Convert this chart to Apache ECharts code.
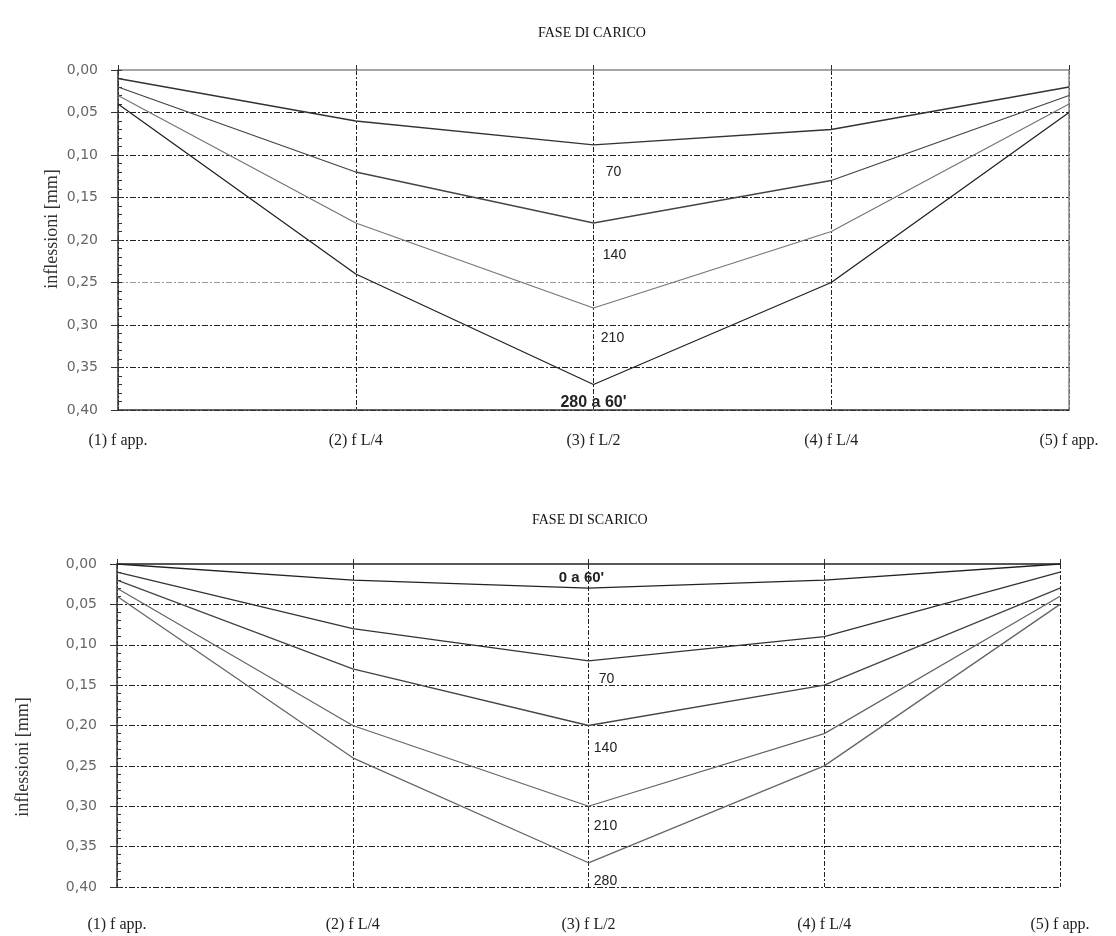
<!DOCTYPE html>
<html>
<head>
<meta charset="utf-8">
<script src="https://cdn.jsdelivr.net/npm/echarts@6/dist/echarts.min.js"></script>
<style>html,body{margin:0;padding:0;background:#fff}#c{width:1116px;height:936px}</style>
</head>
<body>
<div id="c"></div>
<script>
// ---- data ----
const categories = ['(1) f app.', '(2) f L/4', '(3) f L/2', '(4) f L/4', '(5) f app.'];
const yTicks = [0, 0.05, 0.10, 0.15, 0.20, 0.25, 0.30, 0.35, 0.40];

// FASE DI CARICO
const carico70  = [0.01, 0.06, 0.088, 0.07, 0.02];
const carico140 = [0.02, 0.12, 0.18, 0.13, 0.03];
const carico210 = [0.03, 0.18, 0.28, 0.19, 0.04];
const carico280 = [0.04, 0.24, 0.37, 0.25, 0.05];
const caricoNames = ['70', '140', '210', "280 a 60'"];

// FASE DI SCARICO
const scarico0   = [0.00, 0.02, 0.03, 0.02, 0.00];
const scarico70  = [0.01, 0.08, 0.12, 0.09, 0.01];
const scarico140 = [0.02, 0.13, 0.20, 0.15, 0.03];
const scarico210 = [0.03, 0.20, 0.30, 0.21, 0.04];
const scarico280 = [0.04, 0.24, 0.37, 0.25, 0.05];
const scaricoNames = ["0 a 60'", '70', '140', '210', '280'];

// ---- chart ----
const chart = echarts.init(document.getElementById('c'));
const serif = 'Liberation Serif';
const fmt = v => v.toFixed(2).replace('.', ',');

function yAxesFor(gi, dashedRight, splitColors) {
  return [
    { gridIndex: gi, type: 'value', inverse: true, min: 0, max: 0.4, interval: 0.05,
      axisLine: { show: true, lineStyle: { color: '#333', width: 1.5 } },
      axisTick: { show: true, inside: true, length: 4, lineStyle: { color: '#333' } },
      minorTick: { show: true, splitNumber: 5, length: 4, lineStyle: { color: '#333' } },
      axisLabel: { formatter: fmt, margin: 20, color: '#666', fontFamily: 'DejaVu Sans', fontSize: 14 },
      splitLine: { show: true, showMinLine: false, lineStyle: { color: splitColors, type: [6, 2, 2, 2], width: 1 } } },
    { gridIndex: gi, type: 'value', inverse: true, min: 0, max: 0.4, interval: 0.05, position: 'left',
      axisLine: { show: false }, axisLabel: { show: false }, splitLine: { show: false },
      axisTick: { show: true, inside: false, length: 7, lineStyle: { color: '#333' } } },
    { gridIndex: gi, type: 'value', inverse: true, min: 0, max: 0.4, interval: 0.05, position: 'right',
      axisLine: { show: !dashedRight, lineStyle: { color: '#888', width: 1.5 } },
      axisLabel: { show: false }, axisTick: { show: false }, splitLine: { show: false } }
  ];
}

function xAxesFor(gi, bottomSolid, topColor, margin) {
  return [
    { gridIndex: gi, type: 'category', data: categories, boundaryGap: false, position: 'bottom',
      axisLine: { show: bottomSolid, onZero: false, lineStyle: { color: '#333', width: 1.5 } },
      axisTick: { show: false },
      axisLabel: { interval: 0, margin: margin, color: '#222', fontFamily: serif, fontSize: 16 },
      splitLine: { show: true, lineStyle: { color: '#222', type: [5, 2, 2, 2], width: 1 } } },
    { gridIndex: gi, type: 'category', data: categories, boundaryGap: false, position: 'top',
      axisLine: { show: true, onZero: false, lineStyle: { color: topColor, width: 1.5 } },
      axisTick: { show: true, interval: 0, length: 5, lineStyle: { color: '#333' } },
      axisLabel: { show: false }, splitLine: { show: false } }
  ];
}

function mkSeries(name, data, xi, yi, color, lab) {
  return {
    name: name, type: 'line', xAxisIndex: xi, yAxisIndex: yi,
    symbol: 'circle', symbolSize: 0.01, showSymbol: true,
    itemStyle: { color: 'rgba(0,0,0,0)' },
    lineStyle: { color: color, width: 1.3 },
    silent: true, animation: false,
    data: data.map((v, i) => i === 2 ? {
      value: v,
      label: { show: true, position: 'inside', offset: lab.off, formatter: name,
        color: '#222', fontFamily: 'Liberation Sans', fontSize: lab.size || 14,
        fontWeight: lab.bold ? 'bold' : 'normal' }
    } : v)
  };
}

const dark = '#222';
const option = {
  backgroundColor: '#fff',
  animation: false,
  title: [
    { text: 'FASE DI CARICO', left: 533, top: 21, textStyle: { fontFamily: serif, fontSize: 14, fontWeight: 'normal', color: '#111' } },
    { text: 'FASE DI SCARICO', left: 527, top: 508, textStyle: { fontFamily: serif, fontSize: 14, fontWeight: 'normal', color: '#111' } }
  ],
  grid: [
    { left: 118, right: 47, top: 70, bottom: 526 },
    { left: 117, right: 56, top: 564, bottom: 49 }
  ],
  xAxis: [].concat(xAxesFor(0, true, '#888', 23), xAxesFor(1, false, '#222', 30)),
  yAxis: [].concat(
    yAxesFor(0, false, [dark, dark, dark, dark, '#999', dark, dark, dark, dark]),
    yAxesFor(1, true, [dark])
  ),
  graphic: [
    { type: 'text', x: 52, y: 229, rotation: Math.PI / 2,
      style: { text: 'inflessioni [mm]', fontFamily: serif, fontSize: 18, fill: '#333', textAlign: 'center', textVerticalAlign: 'middle' } },
    { type: 'text', x: 23, y: 757, rotation: Math.PI / 2,
      style: { text: 'inflessioni [mm]', fontFamily: serif, fontSize: 18, fill: '#333', textAlign: 'center', textVerticalAlign: 'middle' } }
  ],
  series: [
    mkSeries(caricoNames[0], carico70, 0, 0, '#333', { off: [20, 27] }),
    mkSeries(caricoNames[1], carico140, 0, 0, '#444', { off: [21, 32] }),
    mkSeries(caricoNames[2], carico210, 0, 0, '#777', { off: [19, 30] }),
    mkSeries(caricoNames[3], carico280, 0, 0, '#222', { off: [0, 18], bold: true, size: 16 }),
    mkSeries(scaricoNames[0], scarico0, 2, 3, '#222', { off: [-7, -10], bold: true, size: 15 }),
    mkSeries(scaricoNames[1], scarico70, 2, 3, '#333', { off: [18, 18] }),
    mkSeries(scaricoNames[2], scarico140, 2, 3, '#444', { off: [17, 23] }),
    mkSeries(scaricoNames[3], scarico210, 2, 3, '#666', { off: [17, 20] }),
    mkSeries(scaricoNames[4], scarico280, 2, 3, '#666', { off: [17, 18] })
  ]
};
chart.setOption(option);
</script>
</body>
</html>
